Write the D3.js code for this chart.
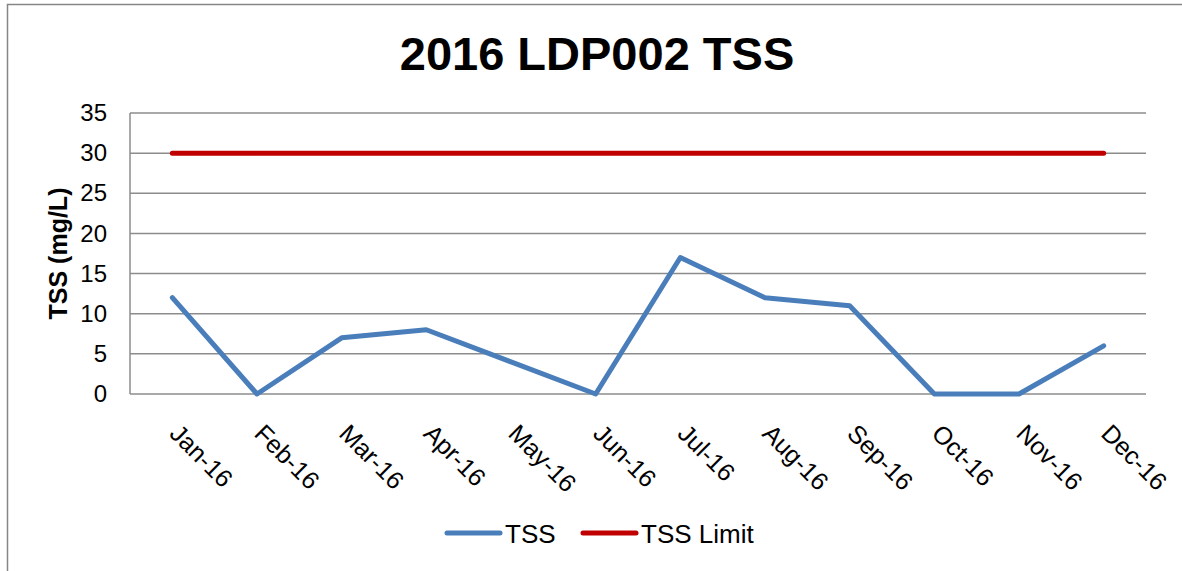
<!DOCTYPE html>
<html>
<head>
<meta charset="utf-8">
<script src="https://cdn.jsdelivr.net/npm/d3@7"></script>
<style>
    body { margin: 0; background: #fff; }
    text { font-family: "Liberation Sans", Arial, sans-serif; }
</style>
</head>
<body>
<div id="chart"></div>
<script>
const width = 1182;
const height = 571;

const months = ["Jan-16", "Feb-16", "Mar-16", "Apr-16", "May-16", "Jun-16",
    "Jul-16", "Aug-16", "Sep-16", "Oct-16", "Nov-16", "Dec-16"];
const tss = [12, 0, 7, 8, 4, 0, 17, 12, 11, 0, 0, 6];
const tssLimit = [30, 30, 30, 30, 30, 30, 30, 30, 30, 30, 30, 30];
const yTicks = [0, 5, 10, 15, 20, 25, 30, 35];

const plot = { left: 130, right: 1146, top: 113, bottom: 394 };

const svg = d3.select("#chart")
    .append("svg")
    .attr("width", width)
    .attr("height", height);

// outer chart border
svg.append("rect")
    .attr("x", 7.5)
    .attr("y", 4.5)
    .attr("width", 1200)
    .attr("height", 600)
    .attr("fill", "none")
    .attr("stroke", "#868686")
    .attr("stroke-width", 1.5);

const x = d3.scaleBand()
    .domain(months)
    .range([plot.left, plot.right]);

const y = d3.scaleLinear()
    .domain([0, 35])
    .range([plot.bottom, plot.top]);

// gridlines
svg.append("g")
    .selectAll("line")
    .data(yTicks)
    .enter()
    .append("line")
    .attr("x1", plot.left)
    .attr("x2", plot.right)
    .attr("y1", d => y(d))
    .attr("y2", d => y(d))
    .attr("stroke", "#8c8c8c")
    .attr("stroke-width", 1.5);

// vertical axis line
svg.append("line")
    .attr("x1", plot.left)
    .attr("x2", plot.left)
    .attr("y1", plot.top)
    .attr("y2", plot.bottom)
    .attr("stroke", "#8c8c8c")
    .attr("stroke-width", 1.5);

// y tick labels
const yAxis = d3.axisLeft(y).tickValues(yTicks).tickSize(0).tickPadding(23);
const gy = svg.append("g")
    .attr("transform", "translate(" + plot.left + ",0)")
    .call(yAxis);
gy.select(".domain").remove();
gy.selectAll("text")
    .style("font-size", "24px")
    .style("font-family", "Liberation Sans, Arial, sans-serif")
    .attr("fill", "#000");

// x labels, rotated
svg.append("g")
    .selectAll("text")
    .data(months)
    .enter()
    .append("text")
    .attr("transform", d => "translate(" + (x(d) + x.bandwidth() / 2 - 4) + ",435) rotate(45)")
    .attr("text-anchor", "start")
    .style("font-size", "25px")
    .text(d => d);

const line = d3.line()
    .x((d, i) => x(months[i]) + x.bandwidth() / 2)
    .y(d => y(d));

svg.append("path")
    .datum(tssLimit)
    .attr("d", line)
    .attr("fill", "none")
    .attr("stroke", "#c00000")
    .attr("stroke-width", 5)
    .attr("stroke-linecap", "round");

svg.append("path")
    .datum(tss)
    .attr("d", line)
    .attr("fill", "none")
    .attr("stroke", "#4a7ebb")
    .attr("stroke-width", 5)
    .attr("stroke-linecap", "round")
    .attr("stroke-linejoin", "round");

// title
svg.append("text")
    .attr("x", 597)
    .attr("y", 70)
    .attr("text-anchor", "middle")
    .style("font-size", "47px")
    .style("font-weight", "bold")
    .text("2016 LDP002 TSS");

// y axis title
svg.append("text")
    .attr("transform", "translate(67," + ((plot.top + plot.bottom) / 2 + 0) + ") rotate(-90)")
    .attr("text-anchor", "middle")
    .style("font-size", "25px")
    .style("font-weight", "bold")
    .text("TSS (mg/L)");

// legend
const legend = [
    { name: "TSS", color: "#4a7ebb", x: 447 },
    { name: "TSS Limit", color: "#c00000", x: 583 }
];
const lg = svg.append("g")
    .selectAll("g")
    .data(legend)
    .enter()
    .append("g")
    .attr("transform", d => "translate(" + d.x + ",533)");
lg.append("line")
    .attr("x1", 0)
    .attr("x2", 53)
    .attr("stroke", d => d.color)
    .attr("stroke-width", 5)
    .attr("stroke-linecap", "round");
lg.append("text")
    .attr("x", 58)
    .attr("y", 10)
    .style("font-size", "26px")
    .text(d => d.name);
</script>
</body>
</html>
